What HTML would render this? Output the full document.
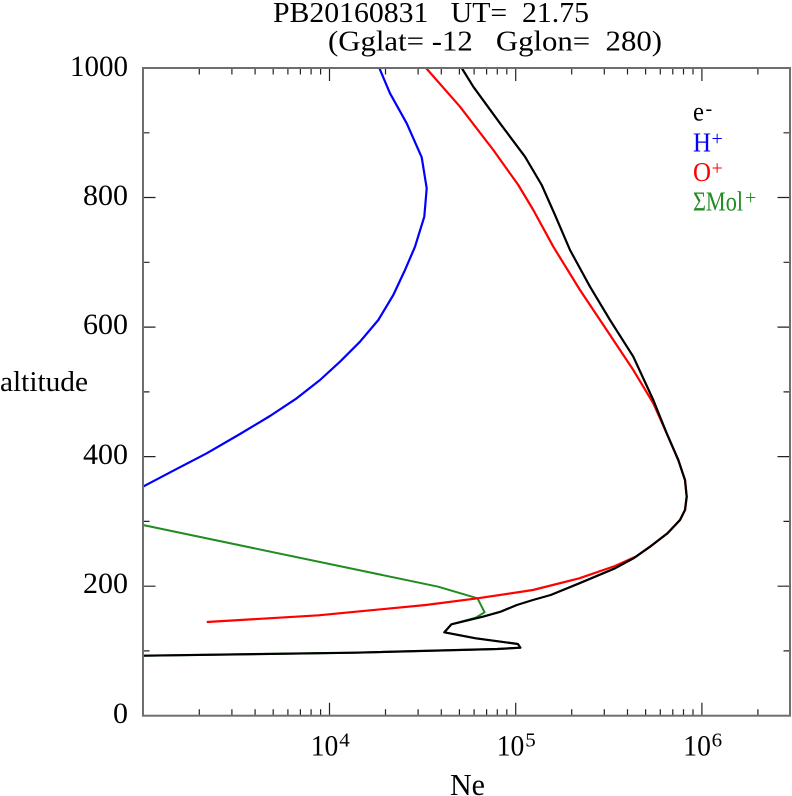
<!DOCTYPE html>
<html><head><meta charset="utf-8"><style>
html,body{margin:0;padding:0;background:#fff;}
svg{display:block;}
text{font-family:"Liberation Serif","DejaVu Serif",serif;fill:#000;}
</style></head><body>
<svg width="792" height="796" viewBox="0 0 792 796" xmlns="http://www.w3.org/2000/svg">
<rect width="792" height="796" fill="#fff"/>
<!-- title -->
<text x="273" y="22" font-size="29" textLength="316" lengthAdjust="spacingAndGlyphs" xml:space="preserve" style="white-space:pre">PB20160831   UT=  21.75</text>
<text x="328" y="50.5" font-size="29" textLength="334" lengthAdjust="spacingAndGlyphs" xml:space="preserve" style="white-space:pre">(Gglat= -12   Gglon=  280)</text>

<!-- ticks -->
<g stroke="#222" stroke-width="1.2" fill="none">
<path d="M199.3 715.7v-6.5M231.9 715.7v-6.5M255.1 715.7v-6.5M273.2 715.7v-6.5M287.9 715.7v-6.5M300.4 715.7v-6.5M311.1 715.7v-6.5M320.6 715.7v-6.5M329.5 715.7v-13
M385.5 715.7v-6.5M418.1 715.7v-6.5M441.3 715.7v-6.5M459.4 715.7v-6.5M474.1 715.7v-6.5M486.6 715.7v-6.5M497.3 715.7v-6.5M506.8 715.7v-6.5M515.7 715.7v-13
M571.7 715.7v-6.5M604.3 715.7v-6.5M627.5 715.7v-6.5M645.6 715.7v-6.5M660.3 715.7v-6.5M672.8 715.7v-6.5M683.5 715.7v-6.5M693 715.7v-6.5M701.9 715.7v-13
M757.9 715.7v-6.5"/>
<path d="M199.3 68v6.5M231.9 68v6.5M255.1 68v6.5M273.2 68v6.5M287.9 68v6.5M300.4 68v6.5M311.1 68v6.5M320.6 68v6.5M329.5 68v13
M385.5 68v6.5M418.1 68v6.5M441.3 68v6.5M459.4 68v6.5M474.1 68v6.5M486.6 68v6.5M497.3 68v6.5M506.8 68v6.5M515.7 68v13
M571.7 68v6.5M604.3 68v6.5M627.5 68v6.5M645.6 68v6.5M660.3 68v6.5M672.8 68v6.5M683.5 68v6.5M693 68v6.5M701.9 68v13
M757.9 68v6.5"/>
<path d="M143 650.9h6.5M143 586.2h12.5M143 521.4h6.5M143 456.6h12.5M143 391.9h6.5M143 327.1h12.5M143 262.3h6.5M143 197.5h12.5M143 132.8h6.5"/>
<path d="M790 650.9h-6.5M790 586.2h-12.5M790 521.4h-6.5M790 456.6h-12.5M790 391.9h-6.5M790 327.1h-12.5M790 262.3h-6.5M790 197.5h-12.5M790 132.8h-6.5"/>
</g>

<!-- curves -->
<g fill="none" stroke-linejoin="round" stroke-linecap="butt">
<polyline stroke="#228b22" stroke-width="2" points="142.9,525 438.2,586.7 477.5,598.3 484.6,612.3 475.7,617.7 451.4,624.3 444.3,632.3 475.7,638.3 517.9,644 520.4,647.7 497.1,649 354.3,652.7 142.9,655.7"/>
<polyline stroke="#0000ff" stroke-width="2.2" points="379.3,68 390,93.3 406.7,123.3 421.7,157.3 426.7,188.3 424.3,216.7 415,246.7 405,270 393.3,295 378.3,320 360,341.7 340,361.7 320,380 296.7,398.3 270,416 240,434 206.7,453.3 173.3,470.7 142.9,486.7"/>
<polyline stroke="#ff0000" stroke-width="2.2" points="426,68 460,106.7 493.3,150 518.3,185 533.3,210 553.3,246.7 580,290 606.7,330 633.3,370 653.3,403.3 666.7,433.3 678.3,460 685,480 686.7,496.7 685,510 680,520 667.5,533.3 650,546.7 636,556.5 615,566 579.3,578.3 532.9,590 477.5,598.3 425.7,605 318.6,615.3 206.8,622"/>
<polyline stroke="#000" stroke-width="2.2" points="461.7,68 473.3,86.7 500,123.3 525,156.7 541.7,185 555,215 570,250 590,286.7 610,320 633.3,356.7 653.3,400 666.7,433.3 678.3,460 685,480 686.7,496.7 685,510 680,520 667.5,533.3 650,546.7 634,558 615,568.3 579.3,583.3 550.7,595 532.9,600 516.8,605 500.7,611.7 482.9,616.7 451.4,624.3 444.3,632.3 475.7,638.3 517.9,644 520.4,647.7 497.1,649 354.3,652.7 142.9,655.7"/>
</g>

<!-- frame -->
<rect x="143" y="68" width="647" height="647.7" fill="none" stroke="#6e6e6e" stroke-width="2"/>

<!-- y tick labels -->
<g font-size="30">
<text x="70" y="76" textLength="58" lengthAdjust="spacingAndGlyphs">1000</text>
<text x="83" y="205" textLength="45" lengthAdjust="spacingAndGlyphs">800</text>
<text x="83" y="334" textLength="45" lengthAdjust="spacingAndGlyphs">600</text>
<text x="83" y="464" textLength="45" lengthAdjust="spacingAndGlyphs">400</text>
<text x="83" y="593" textLength="45" lengthAdjust="spacingAndGlyphs">200</text>
<text x="113" y="723" textLength="15" lengthAdjust="spacingAndGlyphs">0</text>
</g>

<!-- x tick labels -->
<g font-size="30">
<text x="310.7" y="755.5" textLength="27.6" lengthAdjust="spacingAndGlyphs">10</text>
<text x="496.7" y="755.5" textLength="27.6" lengthAdjust="spacingAndGlyphs">10</text>
<text x="683.3" y="755.5" textLength="27.6" lengthAdjust="spacingAndGlyphs">10</text>
</g>
<g font-size="20">
<text x="339.3" y="746.5" textLength="10.5" lengthAdjust="spacingAndGlyphs">4</text>
<text x="525.3" y="746.5" textLength="10.5" lengthAdjust="spacingAndGlyphs">5</text>
<text x="711.7" y="746.5" textLength="10.5" lengthAdjust="spacingAndGlyphs">6</text>
</g>

<!-- axis titles -->
<text x="450" y="795" font-size="31" textLength="35" lengthAdjust="spacingAndGlyphs">Ne</text>
<text x="0" y="391" font-size="28" textLength="88" lengthAdjust="spacingAndGlyphs">altitude</text>

<!-- legend -->
<g font-size="27">
<text x="693" y="120.5" textLength="11" lengthAdjust="spacingAndGlyphs">e</text>
<text x="693" y="151.5" textLength="18" lengthAdjust="spacingAndGlyphs" style="fill:#0000ff">H</text>
<text x="693" y="181" textLength="18" lengthAdjust="spacingAndGlyphs" style="fill:#ff0000">O</text>
<text x="693" y="210.5" textLength="50" lengthAdjust="spacingAndGlyphs" style="fill:#228b22">ΣMol</text>
</g>
<g font-size="20">
<text x="705.5" y="115">-</text>
<text x="711.5" y="145" style="fill:#0000ff">+</text>
<text x="711.5" y="174.5" style="fill:#ff0000">+</text>
<text x="745" y="204" style="fill:#228b22">+</text>
</g>
</svg>
</body></html>
